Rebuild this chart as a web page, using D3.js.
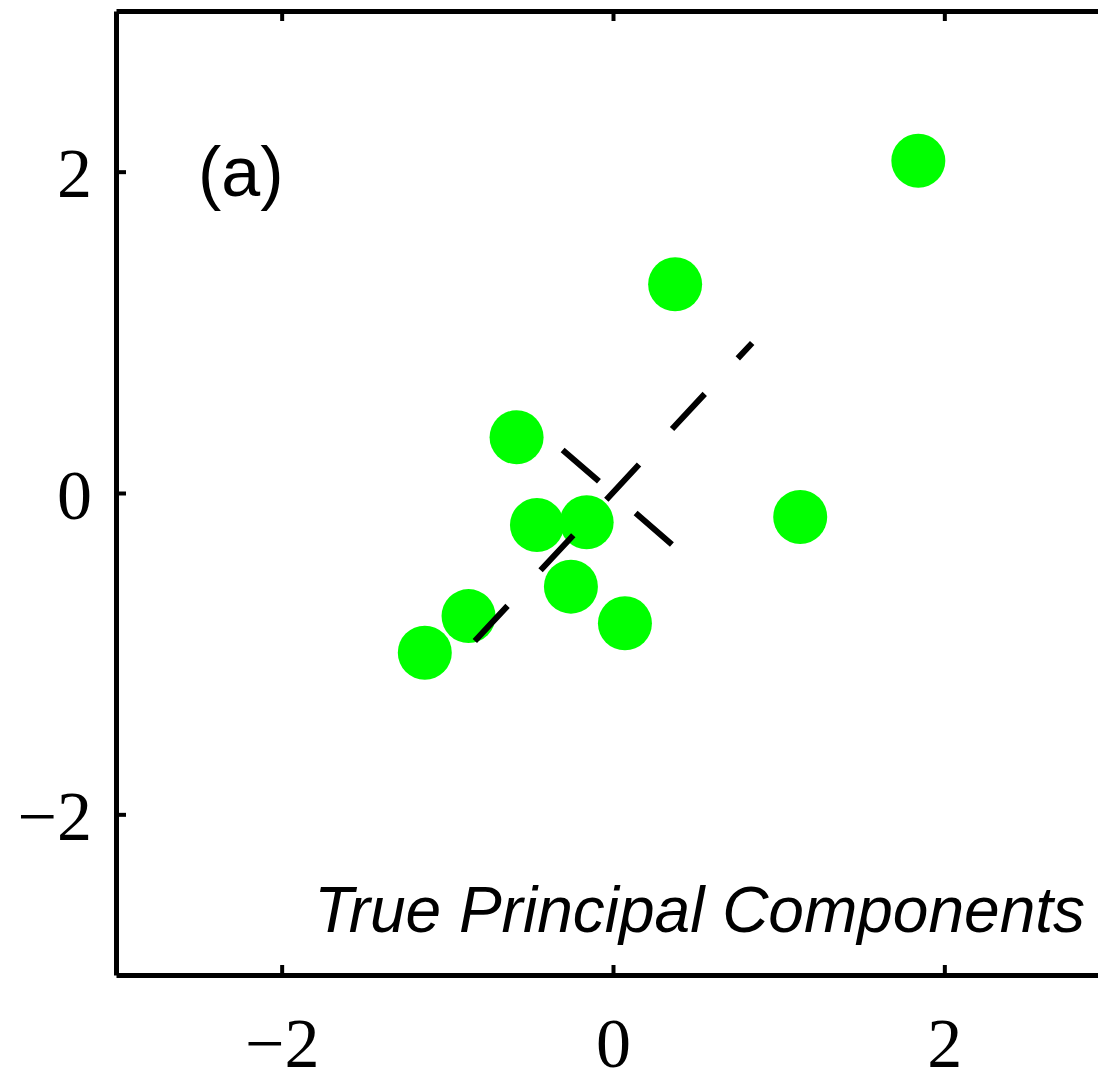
<!DOCTYPE html>
<html>
    <head>
        <title>True Principal Components</title>
        <meta charset="utf-8">
        <script src="https://d3js.org/d3.v7.min.js"></script>
        <style>
            body { margin: 0; background: #fff; }
            svg { display: block; overflow: hidden; }
        </style>
    </head>
    <body>
        <div id="container"></div>
        <script>
            // Data
            const pointX = [1.843, 0.375, -0.582, -0.459, -0.159, -0.254, 0.072, -0.872, -1.136, 1.130]
            const pointY = [2.068, 1.299, 0.347, -0.199, -0.182, -0.583, -0.811, -0.766, -0.994, -0.149]
            // principal component segments (start -> end)
            const pcX1 = [-0.834, -0.304]
            const pcY1 = [-0.921, 0.268]
            const pcX2 = [0.840, 0.364]
            const pcY2 = [0.934, -0.328]
            const tickValues = [-2, 0, 2]
            const panelLabel = "(a)"
            const caption = "True Principal Components"

            // Variables
            const w = 1098
            const h = 1068
            const plotLeft = 116
            const plotRight = 1110
            const plotTop = 11
            const plotBottom = 975
            const tickLen = 10

            const xScale = d3.scaleLinear()
                .domain([-3, 3])
                .range([plotLeft, plotRight])

            const yScale = d3.scaleLinear()
                .domain([-3, 3])
                .range([plotBottom, plotTop])

            const svg = d3.select("#container")
                .append("svg")
                .attr("width", w)
                .attr("height", h)

            // Points
            svg.selectAll("circle")
                .data(pointX)
                .enter()
                .append("circle")
                .attr("cx", d => xScale(d))
                .attr("cy", (d, i) => yScale(pointY[i]))
                .attr("r", 27)
                .attr("fill", "#00ff00")

            // Principal component lines
            svg.selectAll(".pc")
                .data(pcX1)
                .enter()
                .append("line")
                .attr("class", "pc")
                .attr("x1", d => xScale(d))
                .attr("y1", (d, i) => yScale(pcY1[i]))
                .attr("x2", (d, i) => xScale(pcX2[i]))
                .attr("y2", (d, i) => yScale(pcY2[i]))
                .attr("stroke", "#000")
                .attr("stroke-width", 6)
                .attr("stroke-dasharray", "48,48.5")
                .attr("stroke-linecap", "butt")

            // Axes (ticks point inward)
            const fmt = d3.format("")
            const xAxis = d3.axisBottom(xScale)
                .tickValues(tickValues)
                .tickFormat(fmt)
                .tickSizeInner(-tickLen)
                .tickSizeOuter(0)
                .tickPadding(42)
            const yAxis = d3.axisLeft(yScale)
                .tickValues(tickValues)
                .tickFormat(fmt)
                .tickSizeInner(-tickLen)
                .tickSizeOuter(0)
                .tickPadding(24)
            const xTop = d3.axisTop(xScale)
                .tickValues(tickValues)
                .tickFormat("")
                .tickSizeInner(-tickLen)
                .tickSizeOuter(0)
            const yRight = d3.axisRight(yScale)
                .tickValues(tickValues)
                .tickFormat("")
                .tickSizeInner(-tickLen)
                .tickSizeOuter(0)

            const gx = svg.append("g")
                .attr("transform", "translate(0," + plotBottom + ")")
                .call(xAxis)
            const gy = svg.append("g")
                .attr("transform", "translate(" + plotLeft + ",0)")
                .call(yAxis)
            const gt = svg.append("g")
                .attr("transform", "translate(0," + plotTop + ")")
                .call(xTop)
            const gr = svg.append("g")
                .attr("transform", "translate(" + plotRight + ",0)")
                .call(yRight)

            ;[gx, gy, gt, gr].forEach(g => {
                g.select(".domain")
                    .attr("stroke", "#000")
                    .attr("stroke-width", 5)
                g.selectAll(".tick line")
                    .attr("stroke", "#000")
                    .attr("stroke-width", 4)
                g.selectAll(".tick text")
                    .attr("fill", "#000")
                    .style("font-family", "'Liberation Serif', 'DejaVu Serif', serif")
                    .style("font-size", "70px")
            })
            gy.selectAll(".tick text").attr("dy", "0.36em")

            // Panel label
            svg.append("text")
                .attr("x", 198)
                .attr("y", 196)
                .style("font-family", "'Liberation Sans', Arial, sans-serif")
                .style("font-size", "70px")
                .attr("fill", "#000")
                .text(panelLabel)

            // Caption
            svg.append("text")
                .attr("x", 1085)
                .attr("y", 932)
                .attr("text-anchor", "end")
                .style("font-family", "'Liberation Sans', Arial, sans-serif")
                .style("font-size", "64px")
                .style("font-style", "italic")
                .attr("fill", "#000")
                .text(caption)
        </script>
    </body>
</html>
